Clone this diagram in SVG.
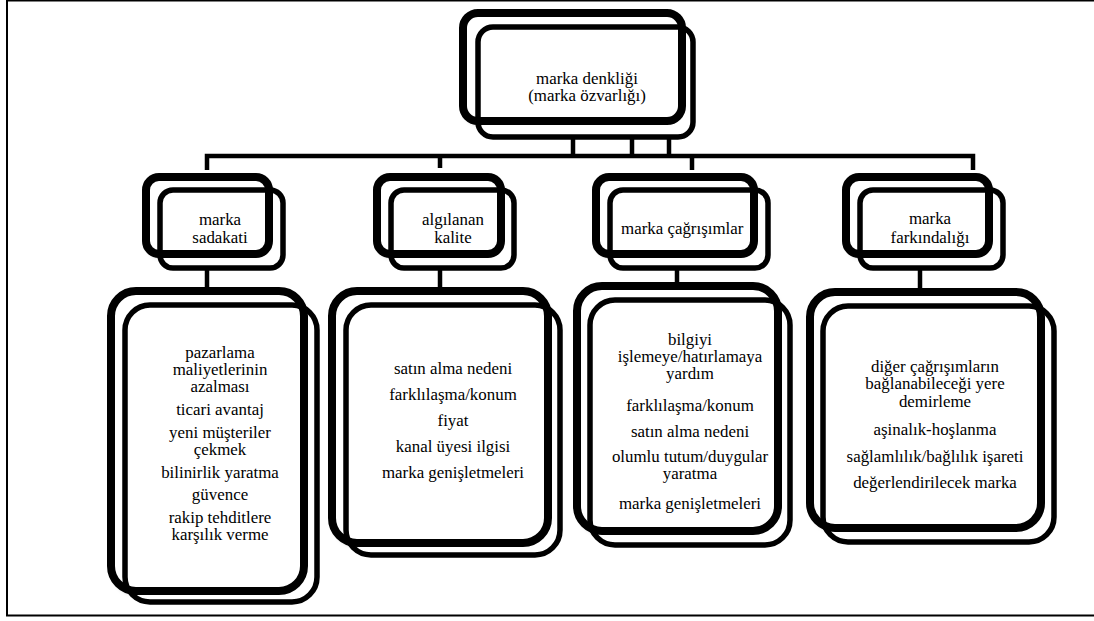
<svg xmlns="http://www.w3.org/2000/svg" width="1094" height="621" viewBox="0 0 1094 621">
<style>
.bg{fill:#fff;stroke:none}
.a{fill:none;stroke:#000;stroke-width:8}
.b{fill:none;stroke:#000;stroke-width:5.5}
.t{font-family:'Liberation Serif','DejaVu Serif',serif;font-size:16.9px;fill:#000;text-anchor:middle}
.c{fill:none;stroke:#000;stroke-width:4.5}
</style>
<defs>
<filter id="sh" x="-10%" y="-10%" width="130%" height="130%">
<feDropShadow dx="2" dy="3" stdDeviation="2.5" flood-color="#000" flood-opacity="0.35"/>
</filter>
</defs>
<rect x="7" y="0.5" width="1110" height="615" fill="#fff" stroke="#000" stroke-width="2"/>

<g id="connectors">
<path class="c" d="M573,121 V156 M632,137 V156 M669,137 V156"/>
<path class="c" d="M207,170 V156 H973 V170"/>
<path class="c" d="M440,168 V156 M692,170 V156"/>
<path class="c" d="M207,254 V291"/>
<path class="c" d="M440,254 V291"/>
<path class="c" d="M677,254 V286"/>
<path class="c" d="M920,254 V292"/>
</g>

<g id="n-top">
<rect class="bg" x="463" y="13" width="219" height="108" rx="15" filter="url(#sh)"/>
<rect class="bg" x="478" y="27" width="215" height="110" rx="15"/>
<rect class="b" x="478" y="27" width="215" height="110" rx="15" stroke-width="6"/>
<rect class="a" x="463" y="13" width="219" height="108" rx="15" stroke-width="7"/>
<text class="t" x="587" y="84" font-family="Liberation Serif, serif">marka denkliği</text>
<text class="t" x="587" y="101" font-family="Liberation Serif, serif">(marka özvarlığı)</text>
</g>

<g id="n-sadakat">
<rect class="bg" x="146" y="177" width="123" height="77" rx="13" filter="url(#sh)"/>
<rect class="bg" x="160" y="190" width="123" height="78" rx="13"/>
<rect class="b" x="160" y="190" width="123" height="78" rx="13"/>
<rect class="a" x="146" y="177" width="123" height="77" rx="13"/>
<text class="t" x="220" y="225" font-family="Liberation Serif, serif">marka</text>
<text class="t" x="220" y="243" font-family="Liberation Serif, serif">sadakati</text>
</g>

<g id="n-kalite">
<rect class="bg" x="377" y="177" width="124" height="77" rx="13" filter="url(#sh)"/>
<rect class="bg" x="391" y="190" width="123" height="78" rx="13"/>
<rect class="b" x="391" y="190" width="123" height="78" rx="13"/>
<rect class="a" x="377" y="177" width="124" height="77" rx="13"/>
<text class="t" x="453" y="225" font-family="Liberation Serif, serif">algılanan</text>
<text class="t" x="453" y="243" font-family="Liberation Serif, serif">kalite</text>
</g>

<g id="n-cagrisim">
<rect class="bg" x="596" y="177" width="158" height="77" rx="13" filter="url(#sh)"/>
<rect class="bg" x="610" y="190" width="158" height="78" rx="13"/>
<rect class="b" x="610" y="190" width="158" height="78" rx="13"/>
<text class="t" x="621" y="234" style="text-anchor:start" font-family="Liberation Serif, serif">marka çağrışımlar</text>
<rect class="a" x="596" y="177" width="158" height="77" rx="13"/>
</g>

<g id="n-farkindalik">
<rect class="bg" x="846" y="177" width="143" height="77" rx="13" filter="url(#sh)"/>
<rect class="bg" x="860" y="190" width="143" height="78" rx="13"/>
<rect class="b" x="860" y="190" width="143" height="78" rx="13"/>
<rect class="a" x="846" y="177" width="143" height="77" rx="13"/>
<text class="t" x="930" y="224" font-family="Liberation Serif, serif">marka</text>
<text class="t" x="930" y="243" font-family="Liberation Serif, serif">farkındalığı</text>
</g>

<g id="n-sadakat-list">
<rect class="bg" x="111" y="291" width="193" height="300" rx="25" filter="url(#sh)"/>
<rect class="bg" x="125" y="305" width="192" height="297" rx="25"/>
<rect class="b" x="125" y="305" width="192" height="297" rx="25" stroke-width="6.5"/>
<rect class="a" x="111" y="291" width="193" height="300" rx="25"/>
<g font-family="Liberation Serif, serif">
<text class="t" x="220" y="358">pazarlama</text>
<text class="t" x="220" y="375">maliyetlerinin</text>
<text class="t" x="220" y="392">azalması</text>
<text class="t" x="220" y="415">ticari avantaj</text>
<text class="t" x="220" y="438">yeni müşteriler</text>
<text class="t" x="220" y="455">çekmek</text>
<text class="t" x="220" y="478">bilinirlik yaratma</text>
<text class="t" x="220" y="500">güvence</text>
<text class="t" x="220" y="523">rakip tehditlere</text>
<text class="t" x="220" y="540">karşılık verme</text>
</g>
</g>

<g id="n-kalite-list">
<rect class="bg" x="332" y="291" width="216" height="252" rx="25" filter="url(#sh)"/>
<rect class="bg" x="346" y="305" width="214" height="250" rx="25"/>
<rect class="b" x="346" y="305" width="214" height="250" rx="25" stroke-width="6.5"/>
<rect class="a" x="332" y="291" width="216" height="252" rx="25"/>
<g font-family="Liberation Serif, serif">
<text class="t" x="453" y="374">satın alma nedeni</text>
<text class="t" x="453" y="400">farklılaşma/konum</text>
<text class="t" x="453" y="426">fiyat</text>
<text class="t" x="453" y="452">kanal üyesi ilgisi</text>
<text class="t" x="453" y="478">marka genişletmeleri</text>
</g>
</g>

<g id="n-cagrisim-list">
<rect class="bg" x="577" y="286" width="201" height="245" rx="25" filter="url(#sh)"/>
<rect class="bg" x="590" y="300" width="200" height="245" rx="25"/>
<rect class="b" x="590" y="300" width="200" height="245" rx="25" stroke-width="6.5"/>
<rect class="a" x="577" y="286" width="201" height="245" rx="25"/>
<g font-family="Liberation Serif, serif">
<text class="t" x="690" y="345">bilgiyi</text>
<text class="t" x="690" y="362">işlemeye/hatırlamaya</text>
<text class="t" x="690" y="379">yardım</text>
<text class="t" x="690" y="411">farklılaşma/konum</text>
<text class="t" x="690" y="437">satın alma nedeni</text>
<text class="t" x="690" y="462">olumlu tutum/duygular</text>
<text class="t" x="690" y="479">yaratma</text>
<text class="t" x="690" y="509">marka genişletmeleri</text>
</g>
</g>

<g id="n-farkindalik-list">
<rect class="bg" x="810" y="292" width="231" height="236" rx="25" filter="url(#sh)"/>
<rect class="bg" x="823" y="306" width="231" height="236" rx="25"/>
<rect class="b" x="823" y="306" width="231" height="236" rx="25" stroke-width="6.5"/>
<rect class="a" x="810" y="292" width="231" height="236" rx="25"/>
<g font-family="Liberation Serif, serif">
<text class="t" x="935" y="372">diğer çağrışımların</text>
<text class="t" x="935" y="389">bağlanabileceği yere</text>
<text class="t" x="935" y="407">demirleme</text>
<text class="t" x="935" y="435">aşinalık-hoşlanma</text>
<text class="t" x="935" y="462">sağlamlılık/bağlılık işareti</text>
<text class="t" x="935" y="488">değerlendirilecek marka</text>
</g>
</g>
</svg>
